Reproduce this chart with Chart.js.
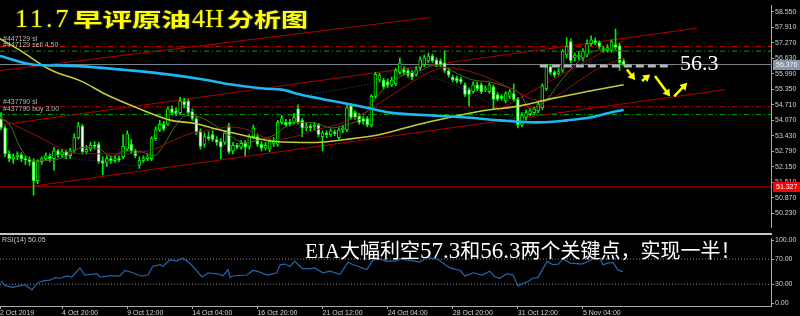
<!DOCTYPE html>
<html>
<head>
<meta charset="utf-8">
<title>11.7早评原油4H分析图</title>
<script src="https://cdn.jsdelivr.net/npm/chart.js@4.4.1/dist/chart.umd.min.js"></script>
<style>
  html, body { margin:0; padding:0; background:#000; }
  #wrap { position:relative; width:800px; height:316px; overflow:hidden; background:#000; }
  #mainBox { position:absolute; left:0; top:0; width:800px; height:233px; }
  #rsiBox { position:absolute; left:0; top:233px; width:800px; height:83px; }
  canvas { display:block; }
  .txt { position:absolute; white-space:nowrap; z-index:5; }
  .ttl { color:#ffff00; text-shadow:1px 0 #222, -1px 0 #222, 0 1px #222, 0 -1px #222; }
  .num { font-family:'Liberation Serif', serif; font-size:26px; line-height:26px; }
  .cjk { font-family:'Noto Sans CJK SC', sans-serif; font-weight:700; font-size:19px; line-height:19px; transform-origin:0 0; }
  .small { font-family:'Liberation Sans', sans-serif; font-size:7px; line-height:8px; color:#b8b8b8; }
  #cap { left:305px; top:240px; color:#fff; font-family:'Noto Sans CJK SC', sans-serif; font-size:20px; line-height:20px; }
  #cap .s { font-family:'Liberation Serif', serif; font-size:23px; }
  #cap .e { font-family:'Liberation Serif', serif; font-size:21px; }
</style>
</head>
<body>
<div id="wrap">
  <div id="mainBox"><canvas id="main" width="800" height="233"></canvas></div>
  <div id="rsiBox"><canvas id="rsi" width="800" height="83"></canvas></div>

  <div class="txt ttl num" style="left:15px;top:6px;letter-spacing:3px">11.7</div>
  <div class="txt ttl cjk" style="left:73px;top:9px;transform:scaleX(1.55)">早评原油</div>
  <div class="txt ttl num" style="left:192px;top:6px">4H</div>
  <div class="txt ttl cjk" style="left:227px;top:9px;transform:scaleX(1.42)">分析图</div>

  <div class="txt small" style="left:3px;top:35px">#447129 sl</div>
  <div class="txt small" style="left:3px;top:41px">#447129 sell 4.50</div>
  <div class="txt small" style="left:3px;top:98px">#437790 sl</div>
  <div class="txt small" style="left:3px;top:105px">#437790 buy 3.00</div>

  <div class="txt" style="left:680px;top:52px;color:#fff;font-family:'Liberation Serif',serif;font-size:22px;line-height:22px">56.3</div>

  <div class="txt small" style="left:2px;top:236px;color:#c8c8c8">RSI(14) 50.05</div>
  <div class="txt" id="cap"><span class="e">EIA</span>大幅利空<span class="s">57.3</span>和<span class="s">56.3</span>两个关键点，实现一半！</div>
</div>

<script>
// ---- price data, 4H bars from 2 Oct 2019 08:00 ----
const opens = [54.19,53.76,52.69,52.49,52.57,52.65,52.49,52.45,52.37,51.58,52.37,52.49,52.61,52.49,52.81,52.65,52.77,52.61,52.81,53.36,
  53.84,52.77,52.88,53.04,53.08,52.41,52.33,52.49,52.41,52.49,52.57,52.88,53.08,52.81,52.21,52.41,52.49,52.49,53.32,53.68,
  53.91,53.91,54.55,54.47,54.39,54.87,54.87,54.43,54.15,53.64,53.08,53.40,53.48,53.28,53.20,53.16,53.84,52.81,53.04,52.96,
  53.12,53.00,53.40,53.40,53.08,52.92,52.88,53.12,53.08,53.99,53.99,53.99,53.99,54.55,54.07,53.76,53.84,53.80,53.88,53.40,
  53.56,53.48,53.60,53.36,53.68,53.68,54.67,54.39,54.27,54.15,54.15,53.88,55.06,55.74,55.74,55.66,55.54,55.58,56.05,56.17,
  56.13,56.05,55.97,56.25,56.37,56.53,56.73,56.57,56.53,56.45,56.13,55.86,55.82,55.78,55.54,55.34,55.26,55.54,55.54,55.34,
  55.26,55.46,55.14,55.06,54.87,55.06,55.18,54.94,53.88,54.19,54.35,54.39,54.47,54.59,55.38,56.29,56.05,56.01,56.13,56.77,
  57.32,56.65,56.69,56.65,56.77,57.24,57.36,57.28,57.04,56.96,56.96,57.20,57.16,56.53];
const highs = [54.39,53.84,52.81,52.69,52.77,52.73,52.61,52.57,52.49,52.45,52.57,52.73,52.69,52.96,52.88,52.88,52.85,52.92,53.52,53.99,
  53.91,53.04,53.16,53.20,53.16,52.57,52.61,52.61,52.61,52.61,53.48,53.64,53.28,52.88,52.57,52.61,52.69,53.40,53.80,54.07,
  54.03,54.63,54.67,54.59,55.02,54.98,54.94,54.55,54.23,53.72,53.56,53.60,53.64,53.40,53.32,53.64,53.95,53.16,53.12,53.24,
  53.24,53.48,53.88,53.52,53.20,53.16,53.28,53.36,54.07,54.27,54.11,54.11,54.35,54.71,54.15,53.95,53.91,53.99,53.95,53.64,
  53.64,53.72,53.68,53.76,53.88,54.71,54.75,54.47,54.35,54.23,54.23,55.14,56.05,56.01,55.82,55.78,55.86,56.21,56.65,56.29,
  56.21,56.13,56.29,56.69,56.77,56.85,56.81,56.65,56.61,56.93,56.21,55.94,55.90,55.86,55.62,55.42,55.66,55.66,55.62,55.50,
  55.62,55.54,55.22,55.14,55.26,55.34,55.58,55.02,54.39,54.51,54.55,54.63,54.83,55.58,56.37,56.37,56.13,56.21,57.00,57.48,
  57.44,56.85,56.89,57.04,57.40,57.56,57.48,57.36,57.12,57.20,57.40,57.84,57.24,56.61];
const lows = [53.68,52.57,52.37,52.29,52.45,52.37,52.25,52.21,50.98,51.46,52.25,52.41,52.37,52.01,52.53,52.57,52.49,52.49,52.73,53.28,
  52.69,52.69,52.81,52.88,52.29,51.82,52.17,52.29,52.33,52.37,52.49,52.81,52.73,52.53,52.09,52.33,52.41,52.41,53.24,53.60,
  53.64,53.84,54.31,54.27,54.31,54.59,54.27,54.07,53.48,52.88,52.96,53.24,53.20,53.04,52.49,53.08,52.69,52.69,52.88,52.88,
  52.61,52.88,53.32,53.00,52.81,52.85,52.77,53.00,53.00,53.91,53.80,53.84,53.91,53.91,53.40,53.64,53.64,53.68,53.40,52.81,
  53.36,53.40,53.44,53.28,53.56,53.60,54.11,54.11,53.91,53.91,53.80,53.80,54.98,55.66,55.38,55.42,55.46,55.50,55.97,55.97,
  55.86,55.74,55.90,56.13,56.29,56.45,56.45,56.29,56.29,56.05,55.86,55.66,55.62,55.58,55.06,54.67,55.18,55.30,55.18,55.26,
  55.18,54.55,54.87,54.91,54.79,54.98,54.87,53.76,53.80,54.07,54.27,54.31,54.39,54.51,55.30,55.97,55.86,55.94,56.05,56.65,
  56.45,56.53,56.57,56.53,56.69,57.16,57.20,57.04,56.89,56.89,56.89,57.00,56.13,56.33];
const closes = [53.76,52.69,52.49,52.57,52.65,52.49,52.45,52.37,51.58,52.37,52.49,52.61,52.49,52.81,52.65,52.77,52.61,52.81,53.36,53.84,
  52.77,52.88,53.04,53.00,52.37,52.29,52.49,52.41,52.49,52.45,53.00,53.52,52.81,52.61,52.41,52.49,52.57,53.32,53.68,53.91,
  53.72,54.55,54.39,54.35,54.87,54.71,54.39,54.15,53.60,53.00,53.40,53.32,53.28,53.16,52.96,53.56,52.77,53.04,52.96,53.12,
  52.96,53.40,53.76,53.08,52.92,53.04,53.20,53.24,53.99,54.15,53.88,53.91,54.19,53.99,53.76,53.84,53.76,53.88,53.48,53.56,
  53.48,53.64,53.52,53.68,53.76,54.59,54.19,54.19,53.99,54.03,53.88,55.06,55.97,55.94,55.46,55.50,55.74,56.13,56.45,56.05,
  55.94,55.86,56.17,56.57,56.65,56.73,56.53,56.37,56.37,56.13,55.94,55.74,55.70,55.66,55.14,55.14,55.54,55.38,55.26,55.38,
  55.54,54.94,54.94,54.98,55.18,55.26,54.94,53.88,54.27,54.39,54.47,54.55,54.75,55.50,56.29,56.05,55.94,56.09,56.93,57.12,
  56.53,56.77,56.77,56.93,57.24,57.40,57.28,57.12,56.96,57.08,57.32,57.08,56.45,56.38];

// moving averages (bar index, price)
const maBlueIdx = [-0.25,8,16,24,32,41,49,57,65,69,73.5,81.6,90,95.6,98,106,114.5,122.6,130.7,132.4,139,144.7,149.6,153];
const maBlueVal = [56.73,56.37,56.33,56.25,56.13,55.97,55.78,55.54,55.38,55.34,55.14,54.87,54.59,54.39,54.35,54.27,54.19,54.07,53.99,53.99,54.07,54.19,54.39,54.51];
const maYellowIdx = [-0.25,4.7,12,20.1,25.3,33.4,41.8,47.4,51.8,59,67.3,77.4,84.5,92.9,102,110.1,118.4,127.5,135.6,144,153];
const maYellowVal = [57.44,56.96,56.17,55.66,55.18,54.59,54.07,53.95,53.76,53.48,53.20,53.16,53.28,53.48,53.88,54.19,54.47,54.67,54.98,55.26,55.54];
const maRedIdx = [-0.25,4.7,9.6,16.2,20.1,25.3,30.2,37.6,41.8,45.7,51.8,55.8,60.7,63.1,67.3,72.2,77.4,84.5,89.4,94.4,99.3,104.2,109.3,114.3,120.9,125.8,130,133.7,137.4,142.3,147.2,153];
const maRedVal = [54.19,53.76,53.36,52.81,52.69,52.69,52.69,52.88,53.20,53.48,53.68,53.80,53.68,53.48,53.28,53.40,53.68,54.00,54.39,54.94,55.46,55.97,56.25,56.13,55.74,55.34,54.98,54.87,55.18,55.74,56.25,56.65];
const maOliveIdx = [-0.25,2.2,4.7,7.9,12,16.2,20.1,24.3,27.3,30.2,33.4,37.6,40.1,42.5,45.7,49.1,51.8,55.8,60,63.9,67.3,70.5,73.7,77.4,81.3,84.5,88.7,91.9,95.3,99.3,103,106.1,109.3,112.5,116,119.9,124.1,127.5,130,133.7,137.4,141.1,144.7,148.4,153];
const maOliveVal = [54.15,53.88,52.96,52.41,52.41,52.61,52.96,52.88,52.57,52.81,52.81,52.61,53.08,53.76,54.27,54.19,53.95,53.48,53.16,53.28,53.48,53.88,53.99,53.95,53.76,53.88,54.19,54.94,55.58,55.97,56.13,56.33,56.25,55.97,55.74,55.66,55.46,55.18,54.55,54.87,55.66,56.37,56.85,57.00,56.93];
const zigIdx = [10.3,24.3,34.2,45,55.5,68.6,77.4,91.2,98,114.3,126.5,128,142.3,152.1];
const zigVal = [52.61,52.37,52.17,54.87,52.61,54.87,55.18,55.58,56.37,55.34,54.15,53.76,56.37,56.73];

// drawn objects: trend channels [idx1, price1, idx2, price2]
const channels = [[-0.25,56.13,105.4,58.32],[-0.25,53.88,171,57.88],[7.6,51.35,177.9,55.34],[121.9,54.47,152.8,57.36]];
const stopLevels = [57.12, 54.63];
const entryLevels = [56.93, 54.31];
const lastPrice = 56.376;
const supportLevel = 51.327;
const targetLine = [132.4, 164.9, 56.32];
const arrows = [[153.8,56.17,155.8,55.74],[157.5,55.70,159.5,55.97],[160.7,55.90,164.4,55.06],[165.4,55.06,168.6,55.62]];

// RSI(14)
const rsiIdx = [0,1,2.9,4.7,5.9,7.6,8.8,10.3,12,13.3,14.5,16.2,17.4,19.4,20.6,23.6,24.3,26.8,29.2,30.5,32.4,34.2,36.1,37.3,39.1,39.8,
  41.5,43.2,44.7,46.4,49.4,50.9,53.8,54.5,55.8,56.3,57,60.4,61.9,62.9,65.4,67.8,68.6,69.8,71,72.2,74,76.4,77.1,79.1,80.8,83.3,
  85.3,86.5,87.7,88.7,89.9,91.4,93.1,94.8,97.3,98,99.8,102.9,104.7,107.1,108.6,110.3,112.8,114,116,118.2,120.1,121.4,122.6,124.3,
  125.8,127,128.3,129.5,130.7,131.9,134.2,135.6,136.9,138.1,139.8,142.8,144.2,145.5,147.2,147.9,149.1,150.4,151.6,152.8];
const rsiVal = [35.4,27.7,25.1,27.7,29.2,21.0,31.3,35.4,36.4,40.5,39.5,43.1,41.5,55.9,44.6,46.7,41.5,43.1,43.1,51.8,48.2,43.1,44.6,58.5,61.0,58.5,
  68.7,67.2,71.3,63.6,41.5,48.2,45.6,43.1,53.3,40.5,43.1,44.6,51.8,50.8,44.6,48.2,61.0,62.0,58.5,66.2,54.9,54.9,55.9,48.2,50.8,45.6,
  65.1,61.0,58.5,55.9,53.3,68.7,70.3,66.2,67.2,70.3,68.7,65.1,72.3,70.3,63.6,55.9,51.8,43.1,48.2,44.6,50.8,41.5,39.5,46.7,
  44.6,27.7,31.3,34.4,39.5,40.5,66.2,61.0,62.0,70.3,63.6,62.0,66.2,70.3,71.3,61.0,63.6,64.6,52.3,50.05];

// axis ticks
const priceTicks = [58.550,57.910,57.270,56.630,55.990,55.350,54.710,54.070,53.430,52.790,52.150,51.510,50.870,50.230];
const rsiTicks = [100,70,30,0];
const dateTickIdx = [-0.25,15,31,47,63,79,95,111,127,143];
const dateTickLabels = ['2 Oct 2019','4 Oct 20:00','9 Oct 12:00','14 Oct 04:00','16 Oct 20:00','21 Oct 12:00','24 Oct 04:00','28 Oct 20:00','31 Oct 12:00','5 Nov 04:00'];

const xMin = -0.25, xMax = 189.2;
const axisColor = '#a8a8a8';
const tickFont = { family: 'Liberation Sans', size: 7 };

function pts(xs, ys) { return xs.map((x, i) => ({ x: x, y: ys[i] })); }
function hline(v) { return [{ x: xMin, y: v }, { x: xMax, y: v }]; }
function line(data, color, width, extra) {
  return Object.assign({ type: 'line', data: data, borderColor: color, borderWidth: width,
    pointRadius: 0, fill: false, tension: 0 }, extra || {});
}

const datasets = [];
channels.forEach(c => datasets.push(line([{ x: c[0], y: c[1] }, { x: c[2], y: c[3] }], '#b00000', 1, { order: 40 })));
stopLevels.forEach(v => datasets.push(line(hline(v), '#c80000', 1, { borderDash: [5, 3, 1, 3], order: 40 })));
entryLevels.forEach(v => datasets.push(line(hline(v), '#00a800', 1, { borderDash: [5, 3, 1, 3], order: 40 })));
datasets.push(line(hline(lastPrice), '#7d858e', 1, { order: 40 }));
datasets.push(line(hline(supportLevel), '#b40000', 1, { order: 40 }));

datasets.push({
  type: 'bar', data: lows.map((l, i) => ({ x: i, y: [l, highs[i]] })),
  backgroundColor: '#00ee00', borderWidth: 0, barThickness: 1, grouped: false, order: 21
});
datasets.push({
  type: 'bar', data: opens.map((o, i) => ({ x: i, y: [o, closes[i]] })),
  backgroundColor: opens.map((o, i) => closes[i] >= o ? '#000000' : '#ffffff'),
  borderColor: '#00ee00', borderWidth: 1, borderSkipped: false, barThickness: 3,
  minBarLength: 1, grouped: false, order: 20
});

datasets.push(line(pts(zigIdx, zigVal), '#1c4a9a', 1, { borderDash: [1, 2], order: 6 }));
datasets.push(line(pts(maOliveIdx, maOliveVal), '#4c6a1c', 1, { cubicInterpolationMode: 'monotone', order: 5 }));
datasets.push(line(pts(maRedIdx, maRedVal), '#8c1414', 1, { cubicInterpolationMode: 'monotone', order: 4 }));
datasets.push(line(pts(maYellowIdx, maYellowVal), '#c4cc3a', 1.6, { cubicInterpolationMode: 'monotone', order: 3 }));
datasets.push(line(pts(maBlueIdx, maBlueVal), '#1cb8f4', 2.6, { cubicInterpolationMode: 'monotone', order: 2 }));
datasets.push(line([{ x: targetLine[0], y: targetLine[2] }, { x: targetLine[1], y: targetLine[2] }], '#b4b4b4', 3, { borderDash: [8, 4], order: 1 }));

const arrowPlugin = {
  id: 'arrows',
  afterDatasetsDraw(chart) {
    const { ctx, scales: { x, y } } = chart;
    ctx.save();
    ctx.strokeStyle = '#ffff00';
    ctx.fillStyle = '#ffff00';
    ctx.lineWidth = 2.5;
    arrows.forEach(a => {
      const x1 = x.getPixelForValue(a[0]), y1 = y.getPixelForValue(a[1]);
      const x2 = x.getPixelForValue(a[2]), y2 = y.getPixelForValue(a[3]);
      const ang = Math.atan2(y2 - y1, x2 - x1);
      ctx.beginPath();
      ctx.moveTo(x1, y1);
      ctx.lineTo(x2 - 5 * Math.cos(ang), y2 - 5 * Math.sin(ang));
      ctx.stroke();
      ctx.beginPath();
      ctx.moveTo(x2, y2);
      ctx.lineTo(x2 - 8 * Math.cos(ang - 0.55), y2 - 8 * Math.sin(ang - 0.55));
      ctx.lineTo(x2 - 8 * Math.cos(ang + 0.55), y2 - 8 * Math.sin(ang + 0.55));
      ctx.closePath();
      ctx.fill();
    });
    ctx.restore();
  }
};

const tagPlugin = {
  id: 'tags',
  afterDraw(chart) {
    const { ctx, scales: { y }, chartArea } = chart;
    ctx.save();
    ctx.font = '7px "Liberation Sans"';
    ctx.textBaseline = 'middle';
    [[lastPrice, '#8797aa', '#f0f0f0'], [supportLevel, '#ff0000', '#ffffff']].forEach(t => {
      const py = Math.round(y.getPixelForValue(t[0]));
      ctx.fillStyle = t[1];
      ctx.fillRect(chartArea.right + 2, py - 5, 800 - chartArea.right - 2, 10);
      ctx.fillStyle = t[2];
      ctx.fillText(t[0].toFixed(3), chartArea.right + 5, py + 0.5);
    });
    ctx.restore();
  }
};

const sepPlugin = {
  id: 'sep',
  beforeDraw(chart) {
    const { ctx, chartArea } = chart;
    ctx.save();
    ctx.fillStyle = '#c4c4c4';
    ctx.fillRect(0, 0, chartArea.right + 1, 2);
    ctx.restore();
  }
};

function yAxis(min, max, ticks, digits) {
  return {
    position: 'right', min: min, max: max,
    afterBuildTicks: s => { s.ticks = ticks.map(v => ({ value: v })); },
    afterFit: s => { s.width = 29; },
    grid: { drawOnChartArea: false, drawTicks: true, tickLength: 3, color: axisColor },
    border: { display: true, color: axisColor },
    ticks: { color: '#d0d0d0', font: tickFont, padding: 1, autoSkip: false, callback: v => Number(v).toFixed(digits) }
  };
}

new Chart(document.getElementById('main'), {
  type: 'bar',
  data: { datasets: datasets },
  options: {
    responsive: false, animation: false, devicePixelRatio: 1,
    layout: { padding: { left: 0, right: 0, top: 0, bottom: 1 } },
    plugins: { legend: { display: false }, tooltip: { enabled: false } },
    scales: {
      x: { type: 'linear', min: xMin, max: xMax, offset: false, display: false },
      y: yAxis(49.635, 58.827, priceTicks, 3)
    }
  },
  plugins: [arrowPlugin, tagPlugin]
});

new Chart(document.getElementById('rsi'), {
  type: 'line',
  data: {
    datasets: [
      line(pts(rsiIdx, rsiVal), '#2466ac', 1.2, { order: 1 }),
      line(hline(70), '#8a8a8a', 1, { borderDash: [1, 2], order: 2 }),
      line(hline(30), '#8a8a8a', 1, { borderDash: [1, 2], order: 2 })
    ]
  },
  options: {
    responsive: false, animation: false, devicePixelRatio: 1,
    layout: { padding: { left: 0, right: 0, top: 3, bottom: 0 } },
    plugins: { legend: { display: false }, tooltip: { enabled: false } },
    scales: {
      x: {
        type: 'linear', min: xMin, max: xMax, offset: false,
        afterBuildTicks: s => { s.ticks = dateTickIdx.map(v => ({ value: v })); },
        afterFit: s => { s.height = 10; },
        grid: { drawOnChartArea: false, drawTicks: true, tickLength: 3, color: axisColor },
        border: { display: true, color: axisColor },
        ticks: { color: '#d0d0d0', font: tickFont, padding: 0, align: 'start', maxRotation: 0, autoSkip: false,
          callback: (v, i) => dateTickLabels[i] }
      },
      y: yAxis(-4.6, 103.1, rsiTicks, 2)
    }
  },
  plugins: [sepPlugin]
});
</script>
</body>
</html>
